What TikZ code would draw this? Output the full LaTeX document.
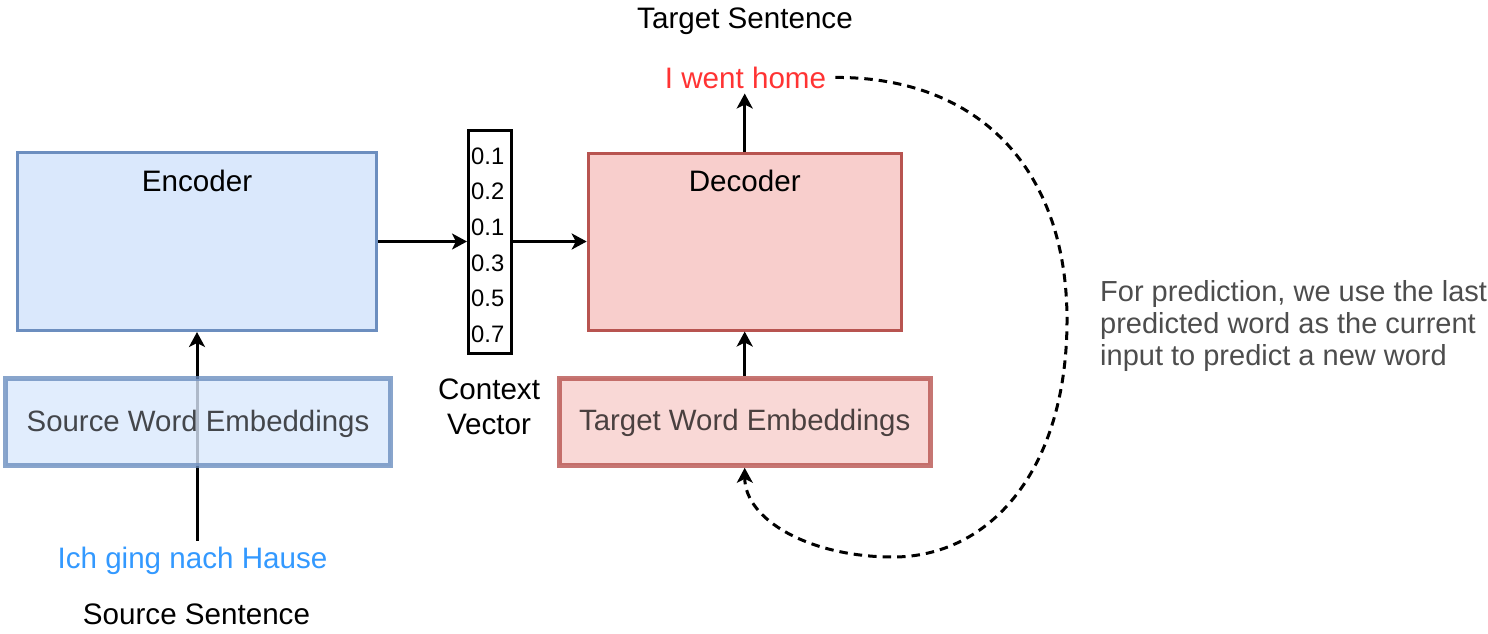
\documentclass[tikz,border=0pt]{standalone}
\usepackage{fontspec}
\setmainfont{Liberation Sans}
\usetikzlibrary{arrows.meta}
\definecolor{encfill}{HTML}{DAE8FC}
\definecolor{encdraw}{HTML}{6C8EBF}
\definecolor{decfill}{HTML}{F8CECC}
\definecolor{decdraw}{HTML}{B85450}
\definecolor{srcblue}{HTML}{3399FF}
\definecolor{tgtred}{HTML}{FF3333}
\definecolor{notegray}{HTML}{4D4D4D}
\begin{document}
\begin{tikzpicture}[x=1pt,y=-1pt,
  txt/.style={inner sep=0pt, font=\fontsize{29.6}{35}\selectfont},
  box/.style={draw, line width=3pt, inner sep=0pt},
  encbox/.style={box, fill=encfill, draw=encdraw, minimum width=359pt, minimum height=178pt},
  decbox/.style={box, fill=decfill, draw=decdraw, minimum width=313pt, minimum height=177pt},
  embbox/.style={box, line width=5pt, fill opacity=0.8, draw opacity=0.8, text opacity=0.7,
                 minimum height=87pt, text height=21pt, text depth=3pt,
                 font=\fontsize{29.4}{35}\selectfont},
  arr/.style={line width=3pt, -{Stealth[length=15pt,width=16pt,inset=4pt]}},
  loopline/.style={arr, dash pattern=on 8.5pt off 6pt}
]
\useasboundingbox (0,0) rectangle (1488,633);

% top texts
\node[txt, anchor=base] (tsent) at (745,28) {Target Sentence};
\node[txt, anchor=base, text=tgtred] (went) at (745.5,88) {I went home};

% encoder
\node[encbox] (enc) at (197,241.5) {};
\node[txt, anchor=base] (enclbl) at (197,191.5) {Encoder};

% context vector
\node[box, minimum width=43pt, minimum height=223pt] (ctx) at (490,241.5) {};
\node[anchor=north west, inner sep=0pt, align=left, font=\fontsize{23.8}{35.7}\selectfont] (nums) at (471,147.3) {0.1\\0.2\\0.1\\0.3\\0.5\\0.7};
\node[txt, anchor=north, align=center] (ctxlbl) at (489,379) {Context\\Vector};

% decoder
\node[decbox] (dec) at (744.7,241.5) {};
\node[txt, anchor=base] (declbl) at (744.7,191) {Decoder};

% source side
\node[txt, anchor=base, text=srcblue] (ich) at (192.5,568.3) {Ich ging nach Hause};
\node[txt, anchor=base] (ssent) at (196.5,624.3) {Source Sentence};
\draw[arr] ([yshift=6pt]ich.north -| enc.south) -- (enc.south);
\node[embbox, fill=encfill, draw=encdraw, minimum width=385pt] (src) at (198,422) {Source Word Embeddings};

% target side
\node[embbox, fill=decfill, draw=decdraw, minimum width=371pt] (tgt) at (744.7,421.8) {Target Word Embeddings};

% connectors
\draw[arr] (enc.east) -- (enc.east -| ctx.west);
\draw[arr] (ctx.east) -- (ctx.east -| dec.west);
\draw[arr] (tgt.north) -- (dec.south);
\draw[arr] (dec.north) -- ([yshift=-5pt]went.south -| dec.north);

% feedback loop
\coordinate (rmost) at (1067,320);
\coordinate (bmost) at (893,557);
\draw[loopline] ([xshift=9pt]went.east) .. controls (980,77) and (1067,170) .. (rmost)
  .. controls (1067,470) and (990,557) .. (bmost)
  .. controls (810,557) and (745,520) .. (tgt.south);

% annotation
\node[txt, anchor=north west, align=left, text=notegray, font=\fontsize{29}{31.6}\selectfont] (note) at (1100,280.7)
  {For prediction, we use the last\\predicted word as the current\\input to predict a new word};
\end{tikzpicture}
\end{document}
